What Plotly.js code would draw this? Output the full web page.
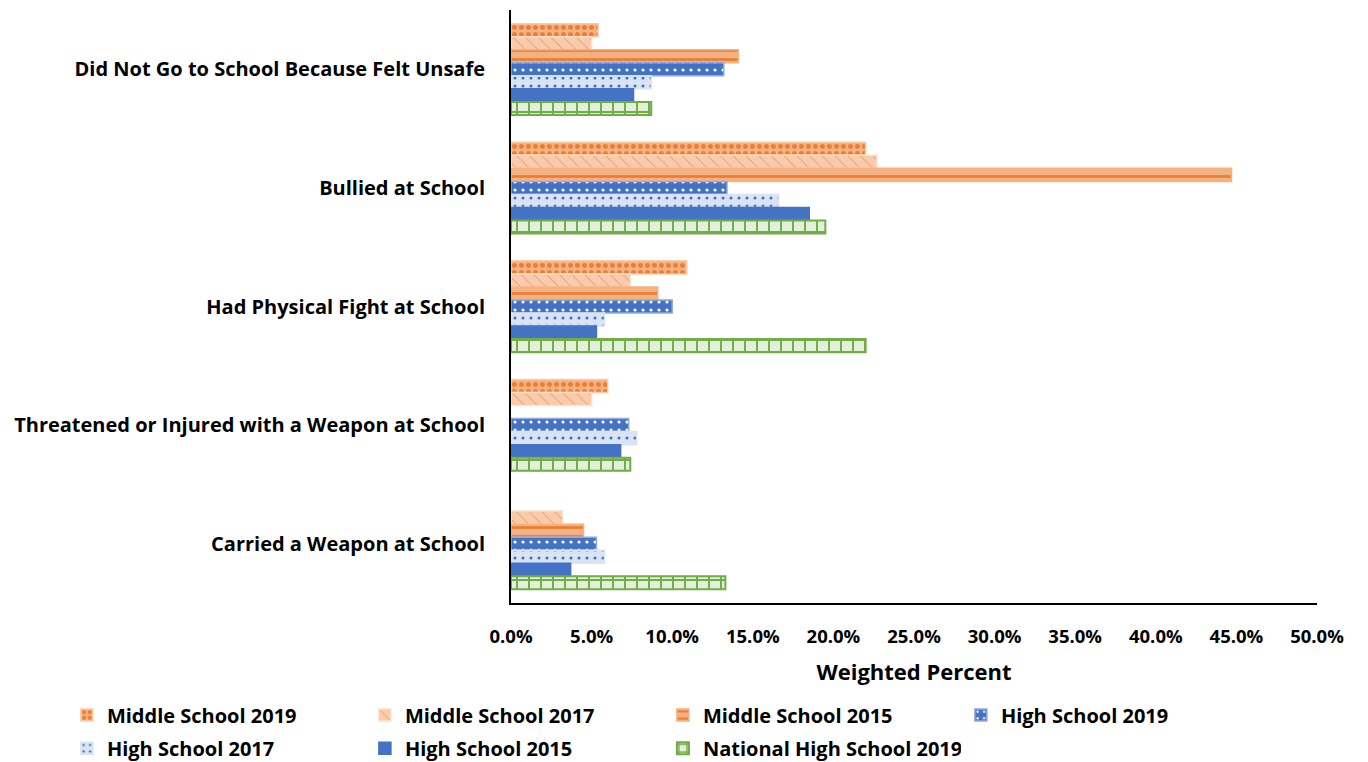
<!DOCTYPE html>
<html>
<head>
<meta charset="utf-8">
<script src="https://cdn.plot.ly/plotly-3.0.1.min.js"></script>
<style>html,body{margin:0;padding:0;background:#fff;}#chart{width:1368px;height:762px;}</style>
</head>
<body>
<div id="chart"></div>
<script>
const categories = [
  "Did Not Go to School Because Felt Unsafe",
  "Bullied at School",
  "Had Physical Fight at School",
  "Threatened or Injured with a Weapon at School",
  "Carried a Weapon at School"
];
const seriesNames = [
  "Middle School 2019", "Middle School 2017", "Middle School 2015",
  "High School 2019", "High School 2017", "High School 2015",
  "National High School 2019"
];
const ms2019 = [5.4, 22.0, 10.9, 6.0, null];
const ms2017 = [5.0, 22.7, 7.4, 5.0, 3.2];
const ms2015 = [14.1, 44.7, 9.1, null, 4.5];
const hs2019 = [13.2, 13.4, 10.0, 7.3, 5.3];
const hs2017 = [8.7, 16.6, 5.8, 7.8, 5.8];
const hs2015 = [7.6, 18.5, 5.3, 6.8, 3.7];
const nat2019 = [8.7, 19.5, 22.0, 7.4, 13.3];
const xTicks = [0, 5, 10, 15, 20, 25, 30, 35, 40, 45, 50];
const xTickLabels = ["0.0%", "5.0%", "10.0%", "15.0%", "20.0%", "25.0%", "30.0%", "35.0%", "40.0%", "45.0%", "50.0%"];

const values = [ms2019, ms2017, ms2015, hs2019, hs2017, hs2015, nat2019];
const legendOf = ['legend', 'legend', 'legend', 'legend', 'legend2', 'legend2', 'legend2'];
const styles = [
  {color:'#F4B183', line:'#F8CBAD', pattern:{shape:'.', fgcolor:'#ED7D31', bgcolor:'#F4B183', size:7, solidity:0.4, fillmode:'replace'}},
  {color:'#F8CBAD', line:'#FBE0CC', pattern:{shape:'\\', fgcolor:'#ED7D31', bgcolor:'#F8CBAD', size:9, solidity:0.08, fillmode:'replace'}},
  {color:'#F4B183', line:'#F4B183', pattern:{shape:'-', fgcolor:'#ED7D31', bgcolor:'#F4B183', size:9, solidity:0.3, fillmode:'replace'}},
  {color:'#4472C4', line:'#8FAADC', pattern:{shape:'.', fgcolor:'#FFFFFF', bgcolor:'#4472C4', size:8, solidity:0.12, fillmode:'replace'}},
  {color:'#DAE3F3', line:'#DAE3F3', pattern:{shape:'.', fgcolor:'#4472C4', bgcolor:'#DAE3F3', size:8, solidity:0.12, fillmode:'replace'}},
  {color:'#4472C4', line:'#4472C4', pattern:{shape:''}},
  {color:'#E2F0D9', line:'#70AD47', pattern:{shape:'+', fgcolor:'#70AD47', bgcolor:'#E2F0D9', size:12, solidity:0.3, fillmode:'replace'}}
];

const traces = seriesNames.map((name, i) => ({
  type: 'bar',
  orientation: 'h',
  name: name,
  y: categories,
  x: values[i],
  legend: legendOf[i],
  marker: {
    color: styles[i].color,
    line: {color: styles[i].line, width: i === 6 ? 2 : 1.5},
    pattern: styles[i].pattern
  },
  hoverinfo: 'x+name'
}));

const fam = '"Open Sans", Lato, sans-serif';
const boldFont = (size) => ({family: fam, size: size, color: '#000', weight: 'bold'});

const legendBase = {
  orientation: 'h',
  xanchor: 'left', yanchor: 'top',
  x: -0.551,
  entrywidth: 253, entrywidthmode: 'pixels',
  traceorder: 'normal',
  font: boldFont(20),
  itemwidth: 30,
  bgcolor: 'rgba(0,0,0,0)'
};

const layout = {
  width: 1368, height: 762,
  margin: {l: 511, r: 51, t: 10, b: 159, autoexpand: false},
  paper_bgcolor: '#fff', plot_bgcolor: '#fff',
  barmode: 'group',
  bargap: 0.23, bargroupgap: 0,
  font: {family: fam, size: 18, color: '#000'},
  showlegend: true,
  xaxis: {
    range: [0, 50],
    tickmode: 'array', tickvals: xTicks, ticktext: xTickLabels,
    showgrid: false, zeroline: false,
    showline: true, linecolor: '#000', linewidth: 2,
    ticks: '', ticklabelstandoff: 16,
    tickfont: boldFont(18.5),
    title: {text: 'Weighted Percent', font: boldFont(22), standoff: 17}
  },
  yaxis: {
    type: 'category',
    categoryorder: 'array', categoryarray: categories,
    autorange: 'reversed',
    showgrid: false, zeroline: false,
    showline: true, linecolor: '#000', linewidth: 2,
    ticks: '', ticklabelstandoff: 20,
    tickfont: boldFont(20)
  },
  legend: Object.assign({}, legendBase, {y: -0.156}),
  legend2: Object.assign({}, legendBase, {y: -0.212})
};

Plotly.newPlot('chart', traces, layout, {displayModeBar: false, responsive: false});
</script>
</body>
</html>
